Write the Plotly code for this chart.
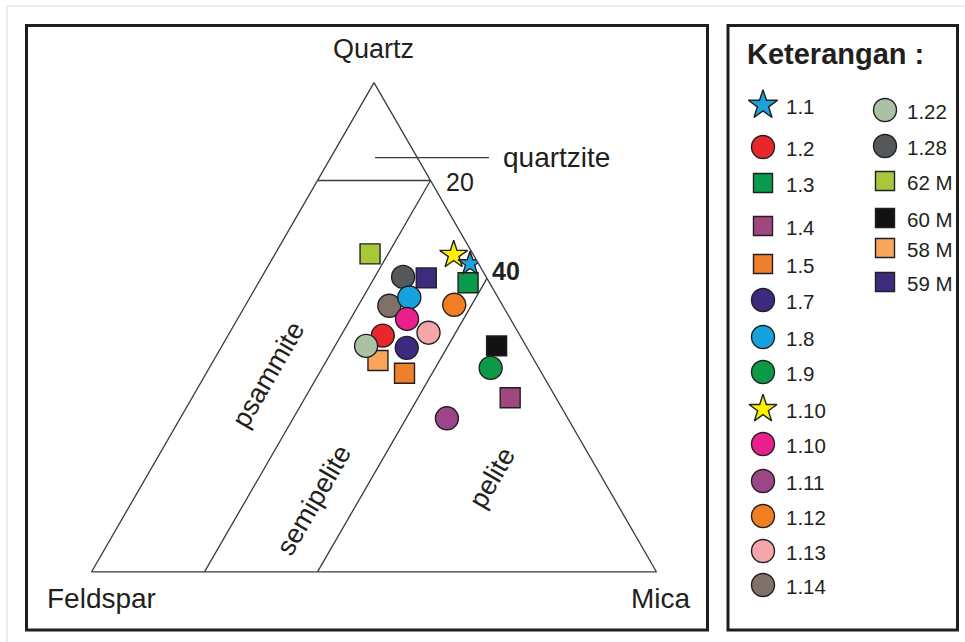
import plotly.graph_objects as go

W, H = 965, 642

# ---------------------------------------------------------------------------
# Data: Quartz - Feldspar - Mica composition (%) of each sample
# ---------------------------------------------------------------------------
samples = ["1.1", "1.2", "1.3", "1.4", "1.5", "1.7", "1.8", "1.9", "1.10", "1.10",
           "1.11", "1.12", "1.13", "1.14", "1.22", "1.28", "62 M", "60 M", "58 M", "59 M"]
quartz = [63.0, 48.3, 59.1, 35.6, 40.6, 45.8, 56.1, 41.7, 64.8, 51.7,
          31.4, 54.6, 48.9, 54.4, 46.2, 60.3, 65.0, 46.2, 43.2, 60.1]
feldspar = [1.5, 24.3, 3.8, 8.1, 24.3, 21.3, 15.7, 8.5, 3.5, 18.3,
            21.4, 8.5, 15.9, 20.1, 28.3, 14.7, 18.2, 5.2, 27.7, 10.7]
mica = [35.5, 27.4, 37.1, 56.3, 35.1, 32.9, 28.2, 49.8, 31.7, 30.0,
        47.2, 36.9, 35.2, 25.5, 25.5, 25.0, 16.8, 48.6, 29.1, 29.2]

# Classification field boundaries
quartzite_min_quartz = 80      # quartzite field above this quartz content
mica_limits = [20, 40]         # psammite | semipelite | pelite

# ---------------------------------------------------------------------------
# Styling
# ---------------------------------------------------------------------------
symbols = ["star", "circle", "square", "square", "square", "circle", "circle", "circle", "star", "circle",
           "circle", "circle", "circle", "circle", "circle", "circle", "square", "square", "square", "square"]
colors = ["#1ba3dd", "#e8262b", "#0a9a4b", "#a2467f", "#f07f2b", "#3d2a7f", "#16a3dd", "#0d9a48", "#fff200", "#ea1e8c",
          "#9c4687", "#f27e22", "#f5a6aa", "#80706a", "#aac1a6", "#55585b", "#a8c83b", "#121212", "#f8a65b", "#3d2b7e"]
plot_size = {"circle": 23, "square": 20, "star": 20}
legend_size = {"circle": 23, "square": 19, "star": 21}
star_plot_size = {0: 18, 8: 21}

# drawing order: squares, then circles, stars on top
draw_order = [16, 19, 18, 17, 2, 3, 4,
              15, 13, 6, 9, 12, 1, 14, 5, 11, 7, 10,
              8, 0]

FONT = "Liberation Sans, Arial, Helvetica, sans-serif"
INK = "#231f20"
LINE = "#3a3a3a"
EDGE = "#231f20"

fig = go.Figure()


def boundary(a, b, c):
    fig.add_trace(go.Scatterternary(
        a=a, b=b, c=c, mode="lines",
        line=dict(color=LINE, width=1.3),
        hoverinfo="skip", showlegend=False))


# quartzite boundary (constant quartz)
q = quartzite_min_quartz
boundary([q, q], [100 - q, 0], [0, 100 - q])
# psammite / semipelite / pelite boundaries (constant mica)
for m in mica_limits:
    boundary([100 - m, 0], [0, 100 - m], [m, m])

# sample points
for i in draw_order:
    sym = symbols[i]
    size = star_plot_size.get(i, plot_size[sym])
    fig.add_trace(go.Scatterternary(
        a=[quartz[i]], b=[feldspar[i]], c=[mica[i]],
        mode="markers", name=samples[i], showlegend=False,
        marker=dict(symbol=sym, size=size, color=colors[i],
                    line=dict(color=EDGE, width=1.4))))

# ---------------------------------------------------------------------------
# Key panel ("Keterangan"), laid out on a pixel-scaled overlay axis
# ---------------------------------------------------------------------------
key_marker_x = [763, 885]
key_text_x = [784, 905]
key_rows_y = [
    [105, 147, 183, 226, 264, 300, 337, 372, 409, 444, 481, 516, 551, 585],
    [110, 146, 181, 218, 248, 282],
]
n_first_col = len(key_rows_y[0])

annotations = []
for i, name in enumerate(samples):
    col = 0 if i < n_first_col else 1
    row = i if col == 0 else i - n_first_col
    y = key_rows_y[col][row]
    sym = symbols[i]
    fig.add_trace(go.Scatter(
        x=[key_marker_x[col]], y=[y], mode="markers", showlegend=False,
        hoverinfo="skip", cliponaxis=False,
        marker=dict(symbol=sym, size=legend_size[sym] + (1 if i == 0 else 0),
                    color=colors[i], line=dict(color=EDGE, width=1.4))))
    annotations.append(dict(
        x=key_text_x[col], y=y + 1, xref="x", yref="y", text=name,
        showarrow=False, xanchor="left", yanchor="middle",
        font=dict(family=FONT, size=20.5, color=INK)))


def label(text, x, y, size=27, angle=0, bold=False, xanchor="center"):
    annotations.append(dict(
        x=x, y=y, xref="x", yref="y",
        text=f"<b>{text}</b>" if bold else text,
        showarrow=False, xanchor=xanchor, yanchor="middle", textangle=angle,
        font=dict(family=FONT, size=size, color=INK)))


label("Keterangan :", 835, 54, size=29, bold=True)

# corner names
label("Quartz", 373, 49, size=27)
label("Feldspar", 101, 598, size=28)
label("Mica", 661, 598, size=28)

# field names and boundary values
label("psammite", 268, 375, size=27, angle=-60)
label("semipelite", 314, 500, size=27, angle=-60)
label("pelite", 492, 478, size=27, angle=-60)
label("20", 460, 182, size=25)
label("40", 506, 271, size=25, bold=True)

# quartzite with its leader line
annotations.append(dict(
    x=375, y=157.7, xref="x", yref="y", text="quartzite",
    showarrow=True, arrowhead=0, arrowwidth=1.3, arrowcolor=LINE,
    ax=181, ay=0, axref="pixel", ayref="pixel", startstandoff=12,
    font=dict(family=FONT, size=28, color=INK)))

# frames
shapes = [
    dict(type="rect", xref="x", yref="y", x0=7, y0=6, x1=W + 5, y1=H + 5,
         line=dict(color="#dadada", width=1), layer="below"),
    dict(type="rect", xref="x", yref="y", x0=26.5, y0=25.5, x1=707.5, y1=630,
         line=dict(color="#1e1e1e", width=3)),
    dict(type="rect", xref="x", yref="y", x0=728, y0=25.5, x1=957.5, y1=630,
         line=dict(color="#1e1e1e", width=3)),
]

axis_style = dict(showgrid=False, showticklabels=False, ticks="", showline=True,
                  linecolor=LINE, linewidth=1.3, title=dict(text=""), min=0)

# equilateral triangle: base from x=91.5 to 656.5 px, base line at y=572 px
fig.update_layout(
    width=W, height=H,
    margin=dict(l=0, r=0, t=0, b=0),
    paper_bgcolor="white", plot_bgcolor="rgba(0,0,0,0)",
    showlegend=False,
    font=dict(family=FONT, color=INK),
    xaxis=dict(range=[0, W], visible=False, domain=[0, 1], fixedrange=True),
    yaxis=dict(range=[H, 0], visible=False, domain=[0, 1], fixedrange=True),
    ternary=dict(
        sum=100,
        domain=dict(x=[91.5 / W, 656.5 / W], y=[1 - 587.3 / H, 1 - 67.3 / H]),
        bgcolor="rgba(0,0,0,0)",
        aaxis=axis_style, baxis=axis_style, caxis=axis_style,
    ),
    shapes=shapes,
    annotations=annotations,
)

fig.write_html("out.html")
